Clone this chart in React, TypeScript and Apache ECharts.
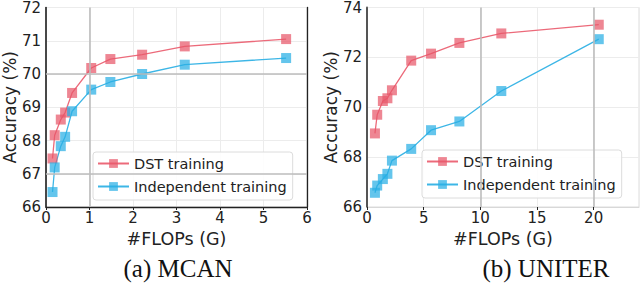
import React, { useEffect, useRef } from 'react';
import * as echarts from 'echarts';

const mcanFlops = [0.15, 0.2, 0.34, 0.44, 0.6, 1.04, 1.48, 2.21, 3.19, 5.52];
const mcanDst = [67.46, 68.16, 68.63, 68.84, 69.43, 70.18, 70.45, 70.58, 70.83, 71.05];
const mcanInd = [66.45, 67.19, 67.83, 68.11, 68.88, 69.53, 69.76, 70.0, 70.28, 70.48];
const uniterFlops = [0.7, 0.9, 1.4, 1.8, 2.2, 3.9, 5.65, 8.15, 11.85, 20.45];
const uniterDst = [68.95, 69.7, 70.25, 70.36, 70.68, 71.87, 72.15, 72.58, 72.96, 73.31];
const uniterInd = [66.57, 66.86, 67.12, 67.33, 67.86, 68.33, 69.08, 69.43, 70.65, 72.73];
const mcanMajorX = [1];
const mcanMajorY = [70, 67];
const uniterMajorX = [10, 20];
const seriesNames = ['DST training', 'Independent training'];
const captions = ['(a) MCAN', '(b) UNITER'];

const FONT = 'DejaVu Sans';
const RED_LINE = '#ec6a7a';
const RED_FILL = 'rgba(232,88,106,0.72)';
const BLUE_LINE = '#3db6e6';
const BLUE_FILL = 'rgba(40,175,228,0.72)';

const zip = (xs: number[], ys: number[]) => xs.map((x, i) => [x, ys[i]]);

export default function App() {
  const ref = useRef<HTMLDivElement>(null);
  useEffect(() => {
    if (!ref.current) return;
    const chart = echarts.init(ref.current, undefined, { renderer: 'svg' });
    const grids = [
      { left: 40, top: 6, width: 267, height: 201 },
      { left: 367, top: 6, width: 272, height: 201 },
    ];
    const xAxisBase = (gi: number, min: number, max: number, interval: number, dark: boolean) => ({
      type: 'value',
      gridIndex: gi,
      min,
      max,
      interval,
      name: '#FLOPs (G)',
      nameLocation: 'middle',
      nameGap: 16,
      nameTextStyle: { fontFamily: FONT, fontSize: 17.5, color: '#222' },
      axisLine: { show: true, onZero: false, lineStyle: { color: dark ? '#222' : '#d8d8d8', width: dark ? 1.3 : 1 } },
      axisTick: { show: true, length: 3, lineStyle: { color: '#222' } },
      axisLabel: { fontFamily: FONT, fontSize: 15, color: '#222', margin: 3, showMaxLabel: gi === 0 },
      splitLine: { show: true, lineStyle: { color: '#ececec', width: 1 } },
    });
    const yAxisBase = (gi: number, min: number, max: number, interval: number, gap: number, color: string, w: number) => ({
      type: 'value',
      gridIndex: gi,
      min,
      max,
      interval,
      name: 'Accuracy (%)',
      nameLocation: 'middle',
      nameGap: gap,
      nameTextStyle: { fontFamily: FONT, fontSize: 17, color: '#222' },
      axisLine: { show: true, lineStyle: { color, width: w } },
      axisTick: { show: false },
      axisLabel: { fontFamily: FONT, fontSize: 15, color: '#222', margin: 5 },
      splitLine: { show: true, lineStyle: { color: '#ececec', width: 1 } },
    });
    const majorSeries = (gi: number, xs: number[], ys: number[]) => ({
      type: 'line',
      name: 'major' + gi,
      xAxisIndex: gi,
      yAxisIndex: gi === 0 ? 0 : 2,
      data: [],
      z: 1,
      silent: true,
      markLine: {
        silent: true,
        symbol: 'none',
        label: { show: false },
        lineStyle: { color: '#bdbdbd', width: 1.6, type: 'solid' },
        data: [...xs.map((v) => ({ xAxis: v })), ...ys.map((v) => ({ yAxis: v }))],
      },
    });
    const dataSeries = (gi: number, name: string, xs: number[], ys: number[], line: string, fill: string) => ({
      type: 'line',
      name,
      xAxisIndex: gi,
      yAxisIndex: gi === 0 ? 0 : 2,
      data: zip(xs, ys),
      z: 3,
      symbol: 'rect',
      symbolSize: 10,
      lineStyle: { color: line, width: 1.3 },
      itemStyle: { color: fill, borderWidth: 0 },
    });
    const legendBase = (left: number, top: number) => ({
      data: seriesNames,
      orient: 'vertical',
      left,
      top,
      itemWidth: 31,
      itemHeight: 11,
      itemGap: 8,
      itemTextGap: 12,
      padding: [4, 6, 6, 4],
      borderColor: '#dcdcdc',
      borderWidth: 1,
      borderRadius: 3,
      backgroundColor: 'rgba(255,255,255,0.9)',
      textStyle: { fontFamily: FONT, fontSize: 14.5, color: '#222' },
      selectedMode: false,
    });
    chart.setOption({
      animation: false,
      backgroundColor: '#fff',
      grid: grids.map((g) => ({ ...g, show: true, borderColor: '#dcdcdc', borderWidth: 1 })),
      xAxis: [xAxisBase(0, 0, 6, 1, true), xAxisBase(1, 0, 24, 5, false)],
      yAxis: [
        yAxisBase(0, 66, 72, 1, 23, '#111', 1.5),
        {
          type: 'value',
          gridIndex: 0,
          position: 'right',
          min: 66,
          max: 72,
          interval: 1,
          axisLine: { show: true, lineStyle: { color: '#222', width: 1.3 } },
          axisTick: { show: false },
          axisLabel: { show: false },
          splitLine: { show: false },
        },
        yAxisBase(1, 66, 74, 2, 22, '#555', 2),
      ],
      legend: [legendBase(93, 152), legendBase(422, 150)],
      series: [
        majorSeries(0, mcanMajorX, mcanMajorY),
        majorSeries(1, uniterMajorX, []),
        dataSeries(0, seriesNames[0], mcanFlops, mcanDst, RED_LINE, RED_FILL),
        dataSeries(0, seriesNames[1], mcanFlops, mcanInd, BLUE_LINE, BLUE_FILL),
        dataSeries(1, seriesNames[0], uniterFlops, uniterDst, RED_LINE, RED_FILL),
        dataSeries(1, seriesNames[1], uniterFlops, uniterInd, BLUE_LINE, BLUE_FILL),
      ],
      graphic: [
        {
          type: 'text',
          x: 178,
          y: 268,
          style: { text: captions[0], fontFamily: 'Liberation Serif', fontSize: 25, fill: '#111', align: 'center', verticalAlign: 'middle' },
        },
        {
          type: 'text',
          x: 546,
          y: 268,
          style: { text: captions[1], fontFamily: 'Liberation Serif', fontSize: 25, fill: '#111', align: 'center', verticalAlign: 'middle' },
        },
      ],
    });
    return () => chart.dispose();
  }, []);
  return <div ref={ref} style={{ position: 'fixed', left: 0, top: 0, width: 640, height: 285 }} />;
}
